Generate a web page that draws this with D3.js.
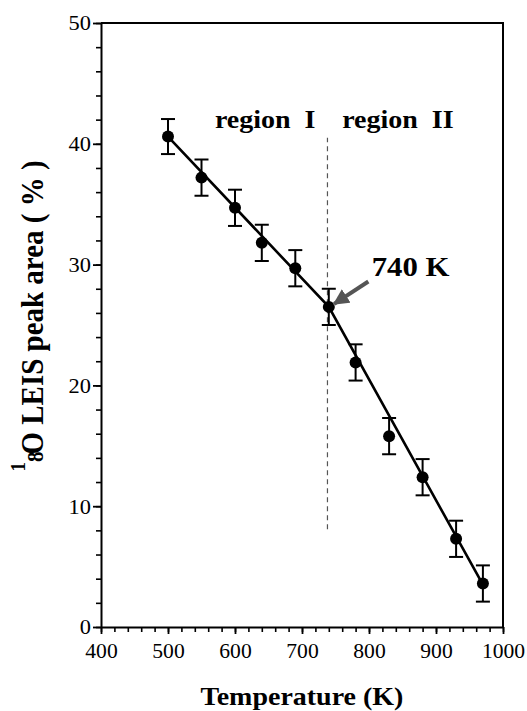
<!DOCTYPE html>
<html>
<head>
<meta charset="utf-8">
<script src="https://cdn.jsdelivr.net/npm/d3@7"></script>
<style>
  body { margin: 0; background: #fff; }
  text { font-family: "Liberation Serif", "Times New Roman", serif; fill: #000; }
</style>
</head>
<body>
<svg id="chart" width="527" height="711"></svg>
<script>
// data
var temps = [500, 550, 600, 640, 690, 740, 780, 830, 880, 930, 970];
var area = [40.6, 37.2, 34.7, 31.8, 29.7, 26.5, 21.9, 15.8, 12.4, 7.3, 3.6];
var errs = [1.45, 1.5, 1.5, 1.5, 1.5, 1.5, 1.5, 1.5, 1.5, 1.5, 1.5];

// fitted two-segment line
var fitTemps = [500, 740, 970];
var fitArea = [40.6, 26.5, 3.5];

// boundary between the two regions
var boundaryTemp = 738;
var boundaryArea = [8.1, 40.5];

var xTicks = [400, 500, 600, 700, 800, 900, 1000];
var yTicks = [0, 10, 20, 30, 40, 50];

// text in the source is a bit wider than tall
var SX = 1.12;

var svg = d3.select("#chart");

var margin = { left: 101, top: 23, right: 24, bottom: 84 };
var width = 527 - margin.left - margin.right;
var height = 711 - margin.top - margin.bottom;

var x = d3.scaleLinear().domain([400, 1000]).range([margin.left, margin.left + width]);
var y = d3.scaleLinear().domain([0, 50]).range([margin.top + height, margin.top]);

// frame on top and right
svg.append("path")
  .attr("d", "M" + x(400) + "," + y(50) + "H" + x(1000) + "V" + y(0))
  .attr("fill", "none")
  .attr("stroke", "#000")
  .attr("stroke-width", 2);

// minor ticks
svg.append("g")
  .attr("transform", "translate(0," + y(0) + ")")
  .call(d3.axisBottom(x).tickValues(d3.range(400, 1001, 20)).tickSize(5).tickFormat(""))
  .call(function(g) { g.select(".domain").remove(); })
  .selectAll("line").attr("stroke-width", 1.6);

svg.append("g")
  .attr("transform", "translate(" + x(400) + ",0)")
  .call(d3.axisLeft(y).tickValues(d3.range(0, 51, 2)).tickSize(5).tickFormat(""))
  .call(function(g) { g.select(".domain").remove(); })
  .selectAll("line").attr("stroke-width", 1.6);

// major axes
var xAxis = svg.append("g")
  .attr("transform", "translate(0," + y(0) + ")")
  .call(d3.axisBottom(x).tickValues(xTicks).tickFormat(d3.format("d")).tickSize(7).tickSizeOuter(0));

var yAxis = svg.append("g")
  .attr("transform", "translate(" + x(400) + ",0)")
  .call(d3.axisLeft(y).tickValues(yTicks).tickFormat(d3.format("d")).tickSize(8).tickSizeOuter(0));

[xAxis, yAxis].forEach(function(g) {
  g.attr("font-family", null);
  g.select(".domain").attr("stroke-width", 2);
  g.selectAll(".tick line").attr("stroke-width", 1.8);
  g.selectAll(".tick text")
    .attr("font-size", 20)
    .attr("fill", "#000");
});

xAxis.selectAll(".tick text")
  .attr("y", 17)
  .attr("dy", "0.71em")
  .attr("transform", "scale(1.08,1)");

yAxis.selectAll(".tick text")
  .attr("x", -9)
  .attr("dy", "0.34em")
  .attr("transform", "scale(" + SX + ",1)");

// dashed boundary
svg.append("line")
  .attr("x1", x(boundaryTemp)).attr("x2", x(boundaryTemp))
  .attr("y1", y(boundaryArea[0])).attr("y2", y(boundaryArea[1]))
  .attr("stroke", "#555")
  .attr("stroke-width", 1.2)
  .attr("stroke-dasharray", "5,4");

// fit line
var fit = fitTemps.map(function(t, i) { return [t, fitArea[i]]; });
svg.append("path")
  .datum(fit)
  .attr("d", d3.line().x(function(d) { return x(d[0]); }).y(function(d) { return y(d[1]); }))
  .attr("fill", "none")
  .attr("stroke", "#000")
  .attr("stroke-width", 2.6);

// error bars + points
var pts = temps.map(function(t, i) { return { t: t, v: area[i], e: errs[i] }; });

var bars = svg.append("g").selectAll("g").data(pts).enter().append("g");
bars.append("line")
  .attr("x1", function(d) { return x(d.t); }).attr("x2", function(d) { return x(d.t); })
  .attr("y1", function(d) { return y(d.v - d.e); }).attr("y2", function(d) { return y(d.v + d.e); })
  .attr("stroke", "#000").attr("stroke-width", 2);
[-1, 1].forEach(function(s) {
  bars.append("line")
    .attr("x1", function(d) { return x(d.t) - 7; }).attr("x2", function(d) { return x(d.t) + 7; })
    .attr("y1", function(d) { return y(d.v + s * d.e); }).attr("y2", function(d) { return y(d.v + s * d.e); })
    .attr("stroke", "#000").attr("stroke-width", 2);
});
bars.append("circle")
  .attr("cx", function(d) { return x(d.t); })
  .attr("cy", function(d) { return y(d.v); })
  .attr("r", 6)
  .attr("fill", "#000");

// arrow to 740 K
var arrowFrom = [799, 28.6], arrowTo = [748, 26.75];
svg.append("defs").append("marker")
  .attr("id", "head")
  .attr("viewBox", "0 0 10 10")
  .attr("refX", 9).attr("refY", 5)
  .attr("markerWidth", 4).attr("markerHeight", 4)
  .attr("orient", "auto")
  .append("path").attr("d", "M0,0L10,5L0,10z").attr("fill", "#555");
svg.append("line")
  .attr("x1", x(arrowFrom[0])).attr("y1", y(arrowFrom[1]))
  .attr("x2", x(arrowTo[0])).attr("y2", y(arrowTo[1]))
  .attr("stroke", "#555")
  .attr("stroke-width", 4)
  .attr("marker-end", "url(#head)");

function label(px, py, str, size, anchor) {
  return svg.append("text")
    .attr("transform", "translate(" + px + "," + py + ") scale(" + SX + ",1)")
    .attr("text-anchor", anchor || "start")
    .attr("font-size", size)
    .attr("font-weight", "bold")
    .style("white-space", "pre")
    .text(str);
}

label(x(570), y(41.3), "region  I", 25);
label(x(760), y(41.3), "region  II", 25);
label(x(804), y(29.05), "740 K", 27.5);

// axis titles
label((x(400) + x(1000)) / 2, 705, "Temperature (K)", 25, "middle");

var yl = svg.append("text")
  .attr("transform", "translate(43,316) scale(" + SX + ",1) rotate(-90)")
  .attr("text-anchor", "middle")
  .attr("font-weight", "bold")
  .style("white-space", "pre");
yl.append("tspan").attr("font-size", 19).attr("dy", -16).text("1");
yl.append("tspan").attr("font-size", 21).attr("dy", 16).text("8");
yl.append("tspan").attr("font-size", 29).attr("dx", -3).text("O LEIS peak area ( % )");
</script>
</body>
</html>
